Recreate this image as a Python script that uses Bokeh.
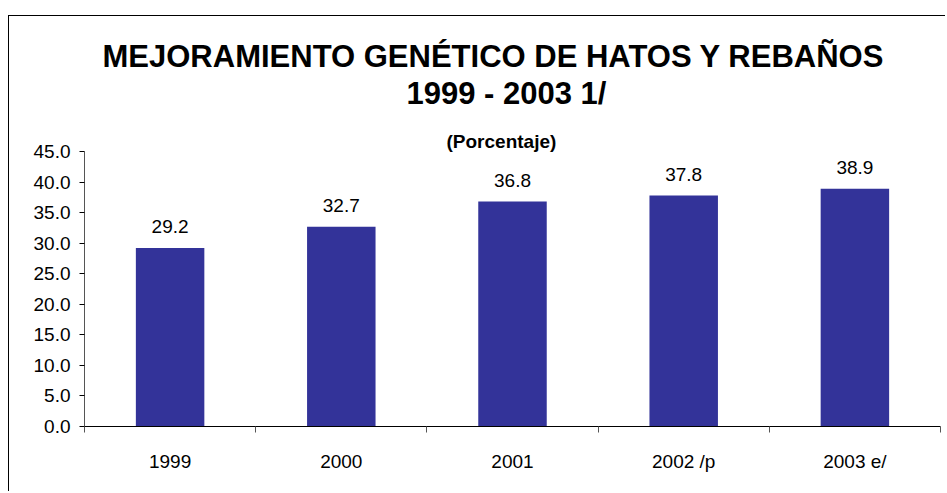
from bokeh.plotting import figure
from bokeh.models import Range1d, FixedTicker, ColumnDataSource, Title, LabelSet, NumeralTickFormatter
from bokeh.core.properties import value
from bokeh.embed import file_html
from bokeh.resources import INLINE

categories = ["1999", "2000", "2001", "2002 /p", "2003 e/"]
values = [29.2, 32.7, 36.8, 37.8, 38.9]
value_labels = ["29.2", "32.7", "36.8", "37.8", "38.9"]
y_ticks = [0, 5, 10, 15, 20, 25, 30, 35, 40, 45]
title_line1 = "MEJORAMIENTO GENÉTICO DE HATOS Y REBAÑOS"
title_line2 = "1999 - 2003 1/"
subtitle = "(Porcentaje)"

FONT = "Liberation Sans"
xpos = [i + 0.5 for i in range(len(categories))]
src = ColumnDataSource(dict(x=xpos, top=values, lab=value_labels))

p = figure(width=937, height=476, output_backend="svg", toolbar_location=None,
           x_range=Range1d(0, len(categories)), y_range=Range1d(0, 45),
           min_border_left=75, min_border_right=6, min_border_top=135, min_border_bottom=66,
           styles={"border-left": "1px solid black", "border-top": "1px solid black",
                   "margin-top": "15px", "margin-left": "8px"})
p.outline_line_color = None
p.xgrid.grid_line_color = None
p.ygrid.grid_line_color = None
p.background_fill_color = "white"
p.border_fill_color = "white"

p.vbar(x="x", top="top", width=0.4, bottom=0, source=src, fill_color="#333399", line_color=None)

labels = LabelSet(x="x", y="top", text="lab", source=src, text_align="center",
                  text_baseline="alphabetic", y_offset=15, text_font=value(FONT),
                  text_font_size="19px", text_color="black")
p.add_layout(labels)

# axes
p.xaxis.ticker = FixedTicker(ticks=xpos, minor_ticks=list(range(len(categories) + 1)))
p.xaxis.major_label_overrides = {x: c for x, c in zip(xpos, categories)}
p.xaxis.major_tick_out = 0
p.xaxis.major_tick_in = 0
p.xaxis.minor_tick_out = 6
p.xaxis.minor_tick_in = 0
p.xaxis.minor_tick_line_color = "#555555"
p.xaxis.axis_line_color = "black"
p.xaxis.major_label_standoff = 18
p.xaxis.major_label_text_font = FONT
p.xaxis.major_label_text_font_size = "19px"
p.xaxis.major_label_text_color = "black"

p.yaxis.ticker = FixedTicker(ticks=y_ticks)
p.yaxis.formatter = NumeralTickFormatter(format="0.0")
p.yaxis.major_tick_out = 5
p.yaxis.major_tick_in = 0
p.yaxis.minor_tick_line_color = None
p.yaxis.axis_line_color = "#555555"
p.yaxis.major_tick_line_color = "black"
p.yaxis.major_label_standoff = 9
p.yaxis.major_label_text_font = FONT
p.yaxis.major_label_text_font_size = "19px"
p.yaxis.major_label_text_color = "black"

p.add_layout(Title(text=subtitle, align="left", offset=362, text_font=FONT, text_color="black",
                   text_font_size="19px", text_font_style="bold", standoff=0), "above")
p.add_layout(Title(text=title_line2, align="left", offset=322, text_font=FONT, text_color="black",
                   text_font_size="31px", text_font_style="bold", standoff=35), "above")
p.add_layout(Title(text=title_line1, align="left", offset=18, text_font=FONT, text_color="black",
                   text_font_size="31px", text_font_style="bold", standoff=-35), "above")

open("out.html", "w").write(file_html(p, INLINE))
